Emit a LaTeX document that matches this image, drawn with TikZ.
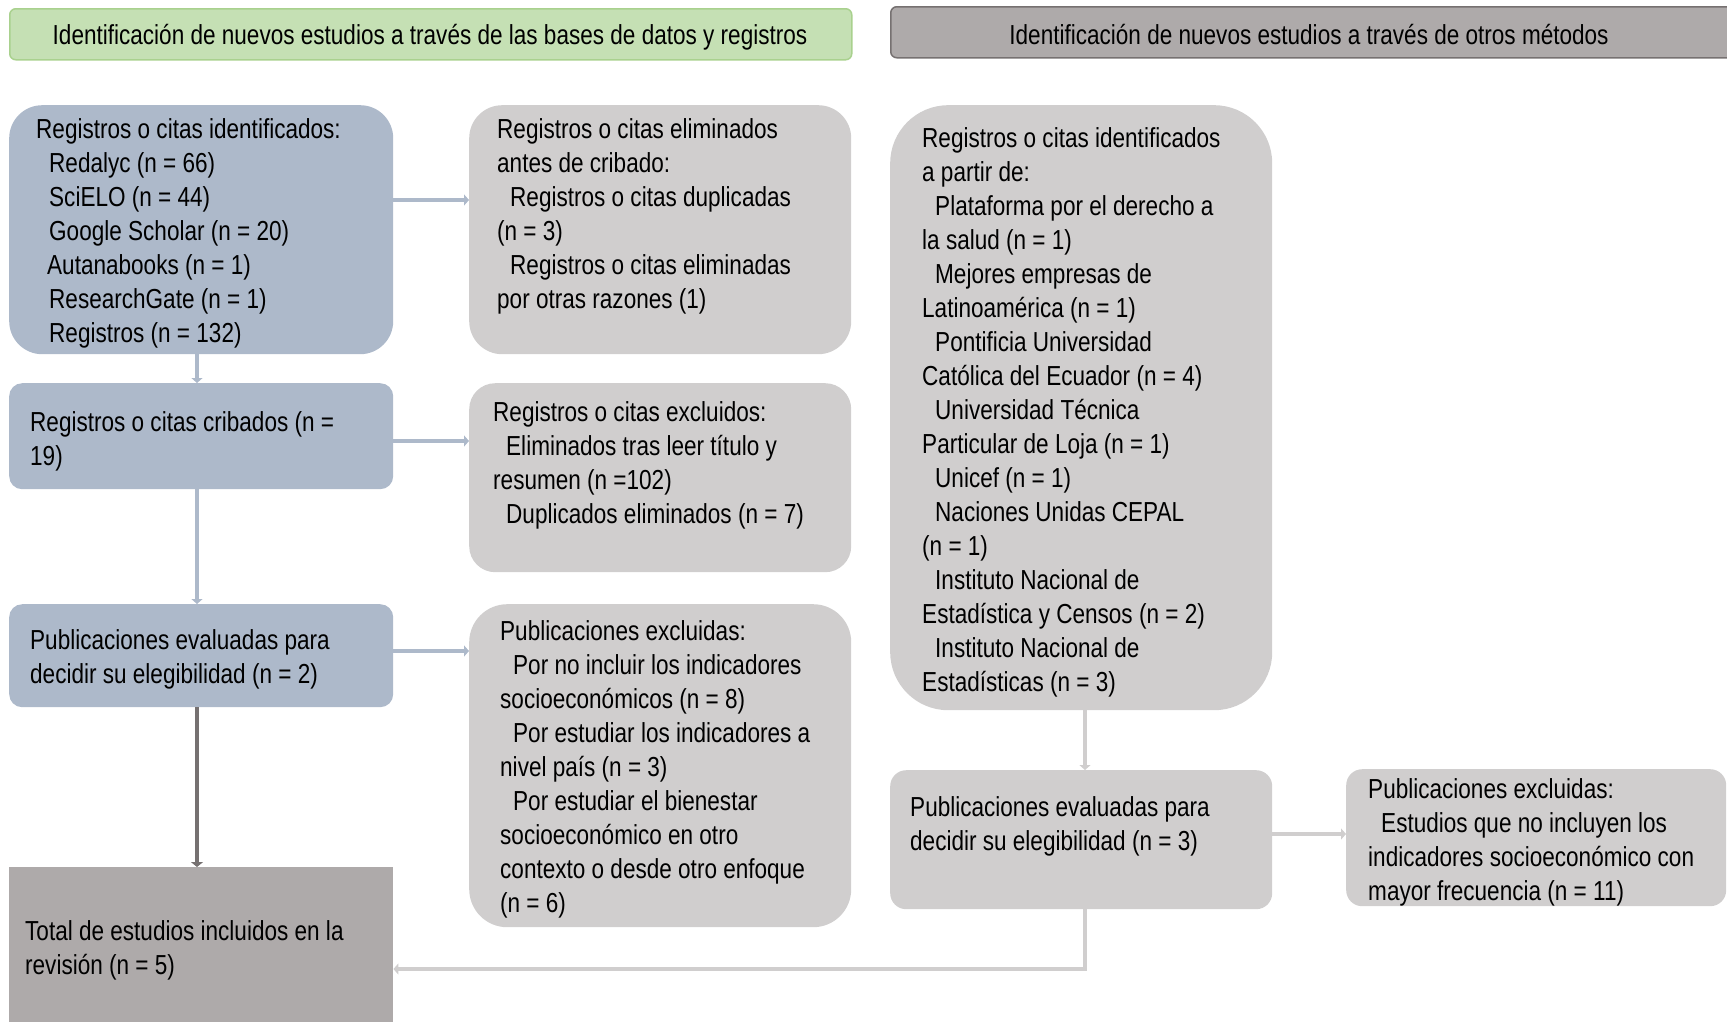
\documentclass[tikz,border=0pt]{standalone}
\usepackage{fontspec}
\setmainfont{Liberation Sans}[FakeStretch=0.82]
\usetikzlibrary{arrows.meta,calc}
\definecolor{bluebox}{HTML}{ADB9CA}
\definecolor{graybox}{HTML}{D0CECE}
\definecolor{greenfill}{HTML}{C5E0B4}
\definecolor{greenline}{HTML}{A9D18E}
\definecolor{darkgray}{HTML}{AEAAAA}
\definecolor{darkline}{HTML}{767171}
\newcommand{\fsz}{\fontsize{27.5}{34}\selectfont}
\newcommand{\ind}{\hspace*{13pt}}
\tikzset{
  boxbase/.style={anchor=north west, inner sep=0pt, draw=none},
  bluestep/.style={boxbase, fill=bluebox},
  graystep/.style={boxbase, fill=graybox},
  txt/.style={anchor=north west, inner sep=0pt, align=left, font=\fsz, text=black},
  arrblue/.style={draw=bluebox, line width=4pt, -{Triangle[length=5pt,width=11pt]}},
  arrgray/.style={draw=graybox, line width=4pt, -{Triangle[length=5pt,width=11pt]}},
  arrdark/.style={draw=darkline, line width=4.5pt, -{Triangle[length=5pt,width=12pt]}},
}
\begin{document}
\begin{tikzpicture}[x=1pt,y=-1pt]
\useasboundingbox (0,0) rectangle (1727,1021);
% headers
\node[boxbase, fill=greenfill, draw=greenline, line width=1.5pt, rounded corners=6pt,
      minimum width=842pt, minimum height=51pt] (hL) at (9,8) {};
\node[font=\fsz, inner sep=0pt] (hLt) at (430,37)
  {Identificación de nuevos estudios a través de las bases de datos y registros};
\node[boxbase, fill=darkgray, draw=darkline, line width=1.5pt, rounded corners=6pt,
      minimum width=850pt, minimum height=51pt] (hR) at (890,6) {};
\node[font=\fsz, inner sep=0pt] (hRt) at (1309,35)
  {Identificación de nuevos estudios a través de otros métodos};
% boxes
\node[bluestep, rounded corners=33pt, minimum width=384pt, minimum height=249pt] (A) at (9,105) {};
\node[graystep, rounded corners=33pt, minimum width=382pt, minimum height=249pt] (B) at (469,105) {};
\node[bluestep, rounded corners=13pt, minimum width=384pt, minimum height=106pt] (C) at (9,383) {};
\node[graystep, rounded corners=26pt, minimum width=382pt, minimum height=189pt] (D) at (469,383) {};
\node[bluestep, rounded corners=13pt, minimum width=384pt, minimum height=103pt] (E) at (9,604) {};
\node[graystep, rounded corners=38pt, minimum width=382pt, minimum height=323pt] (F) at (469,604) {};
\node[boxbase, fill=darkgray, minimum width=384pt, minimum height=170pt] (G) at (9,867) {};
\node[graystep, rounded corners=58pt, minimum width=382pt, minimum height=605pt] (H) at (890,105) {};
\node[graystep, rounded corners=16pt, minimum width=382pt, minimum height=139pt] (I) at (890,770) {};
\node[graystep, rounded corners=16pt, minimum width=380pt, minimum height=137pt] (J) at (1346,769) {};
% texts
\node[txt] (tA) at (36,114) {\strut Registros o citas identificados:\\
 \ind Redalyc (n = 66)\\ \ind SciELO (n = 44)\\ \ind Google Scholar (n = 20)\\
 \hspace*{11pt}Autanabooks (n = 1)\\ \ind ResearchGate (n = 1)\\ \ind Registros (n = 132)};
\node[txt] (tB) at (497,114) {\strut Registros o citas eliminados\\ antes de cribado:\\
 \ind Registros o citas duplicadas\\ (n = 3)\\ \ind Registros o citas eliminadas\\ por otras razones (1)};
\node[txt] (tC) at (30,407) {\strut Registros o citas cribados (n =\\ 19)};
\node[txt] (tD) at (493,397) {\strut Registros o citas excluidos:\\
 \ind Eliminados tras leer título y\\ resumen (n =102)\\ \ind Duplicados eliminados (n = 7)};
\node[txt] (tE) at (30,625) {\strut Publicaciones evaluadas para\\ decidir su elegibilidad (n = 2)};
\node[txt] (tF) at (500,616) {\strut Publicaciones excluidas:\\
 \ind Por no incluir los indicadores\\ socioeconómicos (n = 8)\\
 \ind Por estudiar los indicadores a\\ nivel país (n = 3)\\
 \ind Por estudiar el bienestar\\ socioeconómico en otro\\ contexto o desde otro enfoque\\ (n = 6)};
\node[txt] (tG) at (25,916) {\strut Total de estudios incluidos en la\\ revisión (n = 5)};
\node[txt] (tH) at (922,123) {\strut Registros o citas identificados\\ a partir de:\\
 \ind Plataforma por el derecho a\\ la salud (n = 1)\\
 \ind Mejores empresas de\\ Latinoamérica (n = 1)\\
 \ind Pontificia Universidad\\ Católica del Ecuador (n = 4)\\
 \ind Universidad Técnica\\ Particular de Loja (n = 1)\\
 \ind Unicef (n = 1)\\
 \ind Naciones Unidas CEPAL\\ (n = 1)\\
 \ind Instituto Nacional de\\ Estadística y Censos (n = 2)\\
 \ind Instituto Nacional de\\ Estadísticas (n = 3)};
\node[txt] (tI) at (910,792) {\strut Publicaciones evaluadas para\\ decidir su elegibilidad (n = 3)};
\node[txt] (tJ) at (1368,774) {\strut Publicaciones excluidas:\\
 \ind Estudios que no incluyen los\\ indicadores socioeconómico con\\ mayor frecuencia (n = 11)};
% connector guide coordinates
\coordinate (xl) at (197,0);
\coordinate (xr) at (1085,0);
\coordinate (yab) at (0,200);
\coordinate (ycd) at (0,441);
\coordinate (yef) at (0,651);
\coordinate (yij) at (0,834);
\coordinate (yig) at (0,969);
% connectors
\draw[arrblue] (A.east |- yab) -- (B.west |- yab);
\draw[arrblue] (A.south -| xl) -- (C.north -| xl);
\draw[arrblue] (C.east |- ycd) -- (D.west |- ycd);
\draw[arrblue] (C.south -| xl) -- (E.north -| xl);
\draw[arrblue] (E.east |- yef) -- (F.west |- yef);
\draw[arrdark] (E.south -| xl) -- (G.north -| xl);
\draw[arrgray] (H.south -| xr) -- (I.north -| xr);
\draw[arrgray] (I.east |- yij) -- (J.west |- yij);
\draw[arrgray] (I.south -| xr) -- (xr |- yig) -- (G.east |- yig);
\end{tikzpicture}
\end{document}
